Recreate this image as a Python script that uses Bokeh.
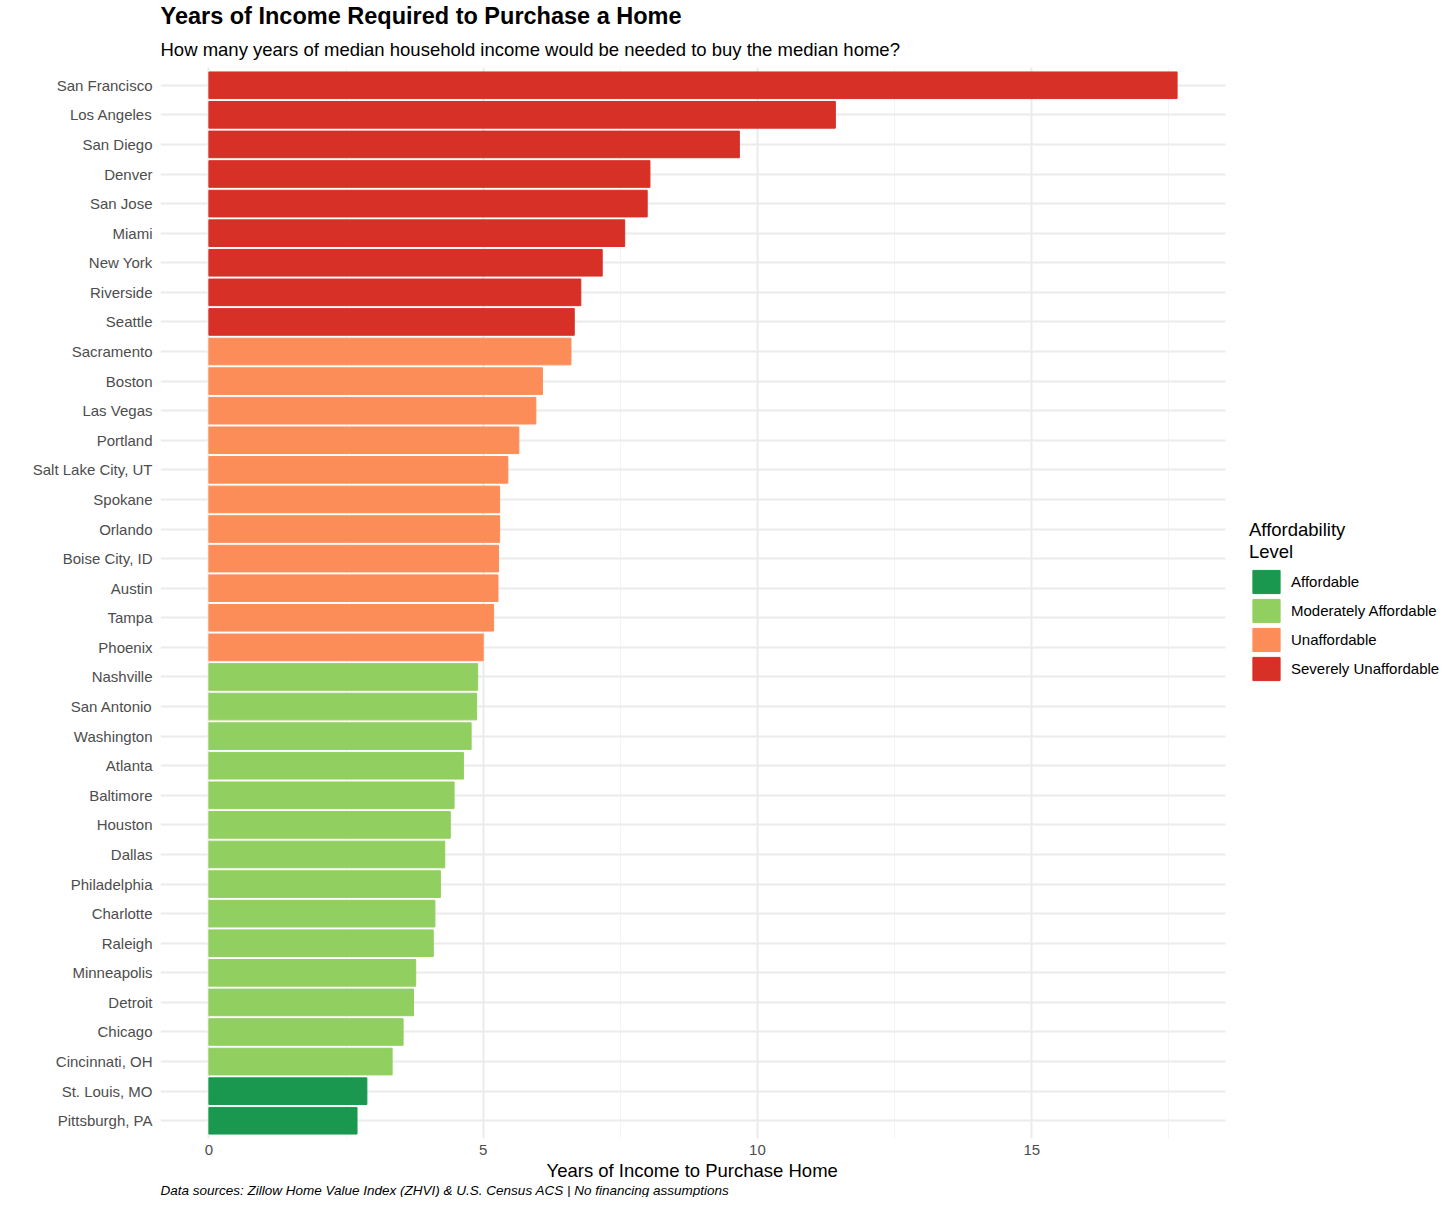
from bokeh.plotting import figure
from bokeh.models import (ColumnDataSource, Range1d, FactorRange, FixedTicker,
                          Legend, LegendItem, Title)
from bokeh.embed import file_html
from bokeh.resources import INLINE

cities = ["San Francisco", "Los Angeles", "San Diego", "Denver", "San Jose", "Miami",
          "New York", "Riverside", "Seattle", "Sacramento", "Boston", "Las Vegas",
          "Portland", "Salt Lake City, UT", "Spokane", "Orlando", "Boise City, ID",
          "Austin", "Tampa", "Phoenix", "Nashville", "San Antonio", "Washington",
          "Atlanta", "Baltimore", "Houston", "Dallas", "Philadelphia", "Charlotte",
          "Raleigh", "Minneapolis", "Detroit", "Chicago", "Cincinnati, OH",
          "St. Louis, MO", "Pittsburgh, PA"]
years = [17.65, 11.42, 9.67, 8.04, 7.99, 7.58, 7.17, 6.78, 6.66, 6.60, 6.08, 5.96,
         5.65, 5.45, 5.30, 5.30, 5.28, 5.27, 5.19, 5.00, 4.90, 4.88, 4.78, 4.64,
         4.47, 4.40, 4.30, 4.22, 4.12, 4.09, 3.77, 3.73, 3.54, 3.34, 2.88, 2.70]
levels = (["Severely Unaffordable"] * 9 + ["Unaffordable"] * 11 +
          ["Moderately Affordable"] * 14 + ["Affordable"] * 2)
level_order = ["Affordable", "Moderately Affordable", "Unaffordable", "Severely Unaffordable"]
level_colors = ["#1A9850", "#91CF60", "#FC8D59", "#D73027"]
major_ticks = [0, 5, 10, 15]
minor_ticks = [2.5, 7.5, 12.5, 17.5]

FONT = "Liberation Sans"

# geometry: plotting panel is 1065 px wide, legend sits in the extra 215 px
W, LEFT = 1440, 160
PANEL_W = 1065
FRAME_W = W - LEFT
xmax = max(years)
x0 = -0.05 * xmax
x1_panel = 1.05 * xmax
x1_frame = x0 + (x1_panel - x0) * FRAME_W / PANEL_W

p = figure(width=W, height=1197, output_backend="svg", toolbar_location=None,
           title=None,
           y_range=FactorRange(factors=list(reversed(cities)), range_padding=0.1,
                               range_padding_units="absolute"),
           x_range=Range1d(x0, x1_frame),
           min_border_left=LEFT, min_border_right=0, min_border_top=67,
           min_border_bottom=58)
p.outline_line_color = None
p.background_fill_color = "white"
p.border_fill_color = "white"

# grids
p.xgrid.grid_line_color = "#EBEBEB"
p.xgrid.grid_line_width = 2
p.xgrid.minor_grid_line_color = "#F4F4F4"
p.xgrid.minor_grid_line_width = 1
ygrid = p.ygrid[0]
if "cross_bounds" in ygrid.properties():
    ygrid.grid_line_color = "#EBEBEB"
    ygrid.grid_line_width = 2
    ygrid.cross_bounds = (x0, x1_panel)
else:
    ygrid.grid_line_color = None
    gsrc = ColumnDataSource(dict(city=cities, a=[x0] * len(cities), b=[x1_panel] * len(cities)))
    p.segment(x0="a", x1="b", y0="city", y1="city", source=gsrc,
              line_color="#EBEBEB", line_width=2, level="underlay")

items = []
for lvl, col in zip(level_order, level_colors):
    idx = [i for i, l in enumerate(levels) if l == lvl]
    src = ColumnDataSource(dict(city=[cities[i] for i in idx], yrs=[years[i] for i in idx]))
    r = p.hbar(y="city", right="yrs", left=0, height=0.9, source=src,
               fill_color=col, fill_alpha=1.0, line_color=col, line_width=1)
    items.append(LegendItem(label=lvl, renderers=[r]))

# axes
p.xaxis.ticker = FixedTicker(ticks=major_ticks, minor_ticks=minor_ticks)
for ax in (p.xaxis, p.yaxis):
    ax.axis_line_color = None
    ax.major_tick_line_color = None
    ax.minor_tick_line_color = None
    ax.major_tick_out = 0
    ax.major_tick_in = 0
    ax.minor_tick_out = 0
    ax.minor_tick_in = 0
    ax.major_label_text_font = FONT
    ax.major_label_text_font_size = "15px"
    ax.major_label_text_color = "#4D4D4D"
p.yaxis.major_label_standoff = 8
p.xaxis.major_label_standoff = 6

# legend, to the right of the bar panel
legend = Legend(items=items, title="Affordability\nLevel", location=(PANEL_W + 24, 455),
                orientation="vertical")
legend.title_text_font = FONT
legend.title_text_font_size = "18.5px"
legend.title_text_font_style = "normal"
legend.title_text_color = "black"
legend.title_text_line_height = 1.0
legend.title_standoff = 4
legend.label_text_font = FONT
legend.label_text_font_size = "15px"
legend.label_text_color = "black"
legend.glyph_width = 34
legend.glyph_height = 29
legend.spacing = 0
legend.label_standoff = 8
legend.padding = 0
legend.margin = 0
legend.border_line_color = None
legend.background_fill_alpha = 0
p.add_layout(legend, "center")

# titles
sub = Title(text="How many years of median household income would be needed to buy the median home?",
            align="left", text_font=FONT, text_font_size="18.5px", text_font_style="normal",
            text_color="black", standoff=16)
p.add_layout(sub, "above")
ttl = Title(text="Years of Income Required to Purchase a Home", align="left",
            text_font=FONT, text_font_size="23.5px", text_font_style="bold",
            text_color="black", standoff=0)
p.add_layout(ttl, "above")

xlab = Title(text="Years of Income to Purchase Home", align="left", offset=386,
             text_font=FONT, text_font_size="18.5px", text_font_style="normal",
             text_color="black", standoff=0)
p.add_layout(xlab, "below")
cap = Title(text="Data sources: Zillow Home Value Index (ZHVI) & U.S. Census ACS | No financing assumptions",
            align="left", text_font=FONT, text_font_size="13.5px", text_font_style="italic",
            text_color="black", standoff=0)
p.add_layout(cap, "below")

open("out.html", "w").write(file_html(p, INLINE))
